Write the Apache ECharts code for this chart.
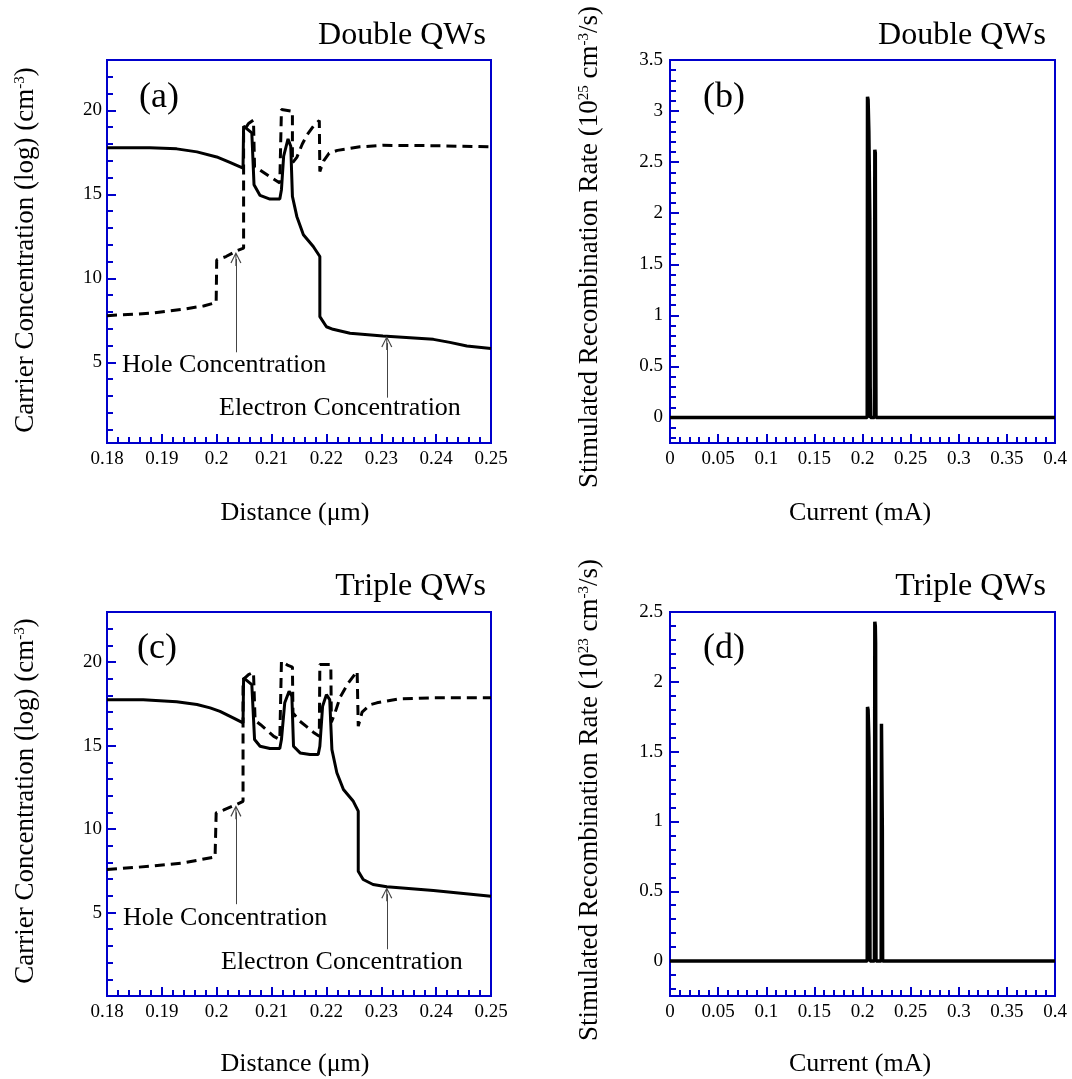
<!DOCTYPE html>
<html>
<head>
<meta charset="utf-8">
<script src="https://cdn.jsdelivr.net/npm/echarts@6/dist/echarts.min.js"></script>
<style>
  html, body { margin: 0; padding: 0; background: #ffffff; }
  #chart { width: 1072px; height: 1079px; }
</style>
</head>
<body>
<div id="chart"></div>
<script>
// ---- Double QWs: carrier profiles (log10 cm^-3) vs distance (um) ----
const distElecDouble = [0.1800, 0.1878, 0.1927, 0.1964, 0.2000, 0.2024, 0.2048, 0.2049, 0.2064, 0.2068, 0.2079, 0.2097, 0.2115, 0.2118, 0.2122, 0.2130, 0.2135, 0.2138, 0.2146, 0.2158, 0.2176, 0.2188, 0.2188, 0.2200, 0.2212, 0.2243, 0.2303, 0.2395, 0.2425, 0.2456, 0.2500];
const elecDouble     = [17.77, 17.77, 17.71, 17.53, 17.23, 16.91, 16.57, 19.06, 18.66, 15.58, 14.94, 14.72, 14.72, 15.28, 17.27, 18.30, 17.86, 14.88, 13.69, 12.60, 11.90, 11.30, 7.72, 7.12, 6.97, 6.73, 6.57, 6.37, 6.19, 5.97, 5.83];

const distHoleDouble = [0.1800, 0.1878, 0.1939, 0.1976, 0.1999, 0.2000, 0.2017, 0.2038, 0.2049, 0.2049, 0.2058, 0.2067, 0.2069, 0.2079, 0.2097, 0.2115, 0.2118, 0.2138, 0.2138, 0.2146, 0.2156, 0.2165, 0.2176, 0.2187, 0.2188, 0.2195, 0.2205, 0.2220, 0.2261, 0.2303, 0.2395, 0.2500];
const holeDouble     = [7.78, 7.92, 8.16, 8.36, 8.56, 11.10, 11.30, 11.66, 11.80, 18.76, 19.22, 19.42, 16.60, 16.45, 16.05, 15.68, 20.05, 19.95, 16.87, 17.20, 18.00, 18.55, 19.05, 19.40, 16.37, 17.00, 17.45, 17.62, 17.83, 17.92, 17.90, 17.83];

// ---- Triple QWs: carrier profiles ----
const distElecTriple = [0.1800, 0.1866, 0.1927, 0.1964, 0.1988, 0.2006, 0.2030, 0.2048, 0.2049, 0.2064, 0.2069, 0.2079, 0.2097, 0.2115, 0.2118, 0.2124, 0.2132, 0.2137, 0.2140, 0.2152, 0.2170, 0.2185, 0.2188, 0.2193, 0.2200, 0.2206, 0.2210, 0.2219, 0.2231, 0.2249, 0.2258, 0.2258, 0.2267, 0.2285, 0.2310, 0.2395, 0.2500];
const elecTriple     = [17.75, 17.75, 17.62, 17.46, 17.26, 17.05, 16.66, 16.36, 19.05, 18.65, 15.36, 14.96, 14.82, 14.82, 15.36, 17.56, 18.25, 17.95, 14.96, 14.56, 14.46, 14.46, 14.96, 17.35, 18.05, 17.75, 14.76, 13.37, 12.37, 11.66, 11.07, 7.47, 6.98, 6.68, 6.54, 6.32, 5.98];

const distHoleTriple = [0.1800, 0.1878, 0.1939, 0.1997, 0.1999, 0.2012, 0.2036, 0.2048, 0.2048, 0.2058, 0.2067, 0.2070, 0.2080, 0.2094, 0.2104, 0.2115, 0.2118, 0.2130, 0.2138, 0.2139, 0.2150, 0.2165, 0.2178, 0.2187, 0.2188, 0.2208, 0.2209, 0.2215, 0.2225, 0.2240, 0.2256, 0.2258, 0.2265, 0.2280, 0.2292, 0.2334, 0.2395, 0.2500];
const holeTriple     = [7.57, 7.77, 7.97, 8.33, 10.97, 11.13, 11.47, 11.66, 18.95, 19.25, 19.39, 16.50, 16.25, 15.85, 15.55, 15.36, 20.05, 19.80, 19.70, 16.96, 16.50, 16.10, 15.75, 15.56, 19.85, 19.85, 16.40, 16.90, 17.90, 18.75, 19.45, 16.16, 17.00, 17.45, 17.56, 17.80, 17.86, 17.86];

// ---- Stimulated recombination rate vs current (mA) ----
const currentDouble = [0, 0.2049, 0.2052, 0.2058, 0.2066, 0.2076, 0.2080, 0.2083, 0.2124, 0.2128, 0.2133, 0.2136, 0.2140, 0.4];
const rateDouble    = [0, 0, 3.14, 3.11, 2.80, 1.95, 0.30, 0, 0, 2.62, 2.59, 1.50, 0, 0];            // x 1e25 cm^-3/s

const currentTriple = [0, 0.2049, 0.2052, 0.2058, 0.2066, 0.2074, 0.2078, 0.2124, 0.2128, 0.2133, 0.2136, 0.2140, 0.2194, 0.2197, 0.2202, 0.2206, 0.2209, 0.4];
const rateTriple    = [0, 0, 1.82, 1.80, 1.60, 1.00, 0, 0, 2.43, 2.40, 2.28, 0, 0, 1.70, 1.69, 0.94, 0, 0]; // x 1e23 cm^-3/s

// ---- tick labels ----
const distLabels        = [0.18, 0.19, 0.20, 0.21, 0.22, 0.23, 0.24, 0.25];
const concLabels        = [5, 10, 15, 20];
const currentLabels     = [0, 0.05, 0.1, 0.15, 0.2, 0.25, 0.3, 0.35, 0.4];
const rateDoubleLabels  = [0, 0.5, 1, 1.5, 2, 2.5, 3, 3.5];
const rateTripleLabels  = [0, 0.5, 1, 1.5, 2, 2.5];

// annotation arrows (data coordinates: x, from-y, to-y)
const arrowsDouble = [
  { x: 0.2035, from: 5.6, to: 11.15 },
  { x: 0.2310, from: 2.9, to: 6.15 }
];
const arrowsTriple = [
  { x: 0.2035, from: 5.5, to: 11.0 },
  { x: 0.2310, from: 2.8, to: 6.1 }
];

function range(a, b, step) {
  const out = [];
  const n = Math.round((b - a) / step);
  for (let i = 0; i <= n; i++) out.push(+(a + i * step).toFixed(6));
  return out;
}
function pairs(xs, ys) { return xs.map((x, i) => [x, ys[i]]); }
const fmt = v => String(+(+v).toFixed(4));

const BLUE = '#0000cc';
const SERIF = '"Liberation Serif", "Times New Roman", serif';
const ARROW = 'path://M10,0 L20,20 L18,21 L11,6 L11,26 L9,26 L9,6 L2,21 L0,20 Z';

const panels = [
  { box: { left: 107, top: 60,  width: 384, height: 383 }, x: [0.18, 0.25], y: [0.2, 23],
    xLabels: distLabels, xMinor: range(0.18, 0.25, 0.002), yLabels: concLabels, yMinor: range(1, 22, 1), yMargin: 5 },
  { box: { left: 670, top: 60,  width: 385, height: 383 }, x: [0, 0.4], y: [-0.25, 3.5],
    xLabels: currentLabels, xMinor: range(0, 0.4, 0.01), yLabels: rateDoubleLabels, yMinor: range(-0.2, 3.4, 0.1), yMargin: 7 },
  { box: { left: 107, top: 612, width: 384, height: 384 }, x: [0.18, 0.25], y: [0, 23],
    xLabels: distLabels, xMinor: range(0.18, 0.25, 0.002), yLabels: concLabels, yMinor: range(1, 22, 1), yMargin: 5 },
  { box: { left: 670, top: 612, width: 385, height: 384 }, x: [0, 0.4], y: [-0.25, 2.5],
    xLabels: currentLabels, xMinor: range(0, 0.4, 0.01), yLabels: rateTripleLabels, yMinor: range(-0.2, 2.4, 0.1), yMargin: 7 }
];

function makeAxis(dim, g, ext, labels, ticks, len, main, margin) {
  return {
    type: 'value', gridIndex: g, min: ext[0], max: ext[1],
    position: dim === 'x' ? 'bottom' : 'left',
    axisLine: { show: main, onZero: false, lineStyle: { color: BLUE, width: 2 } },
    axisTick: { show: true, inside: true, length: len, customValues: ticks, lineStyle: { color: BLUE, width: 2 } },
    axisLabel: main
      ? { show: true, customValues: labels, margin: margin, formatter: fmt, color: '#000', fontFamily: SERIF, fontSize: 19 }
      : { show: false },
    splitLine: { show: false }
  };
}

const grid = [], xAxis = [], yAxis = [];
panels.forEach((p, g) => {
  grid.push(Object.assign({ show: true, borderColor: BLUE, borderWidth: 2, backgroundColor: 'transparent' }, p.box));
  xAxis.push(makeAxis('x', g, p.x, p.xLabels, p.xLabels, 9, true, 7));
  xAxis.push(makeAxis('x', g, p.x, null, p.xMinor, 6, false, 0));
  yAxis.push(makeAxis('y', g, p.y, p.yLabels, p.yLabels, 9, true, p.yMargin));
  yAxis.push(makeAxis('y', g, p.y, null, p.yMinor, 6, false, 0));
});

function arrowLines(list) {
  return {
    silent: true,
    symbol: ['none', ARROW],
    symbolSize: [11, 14],
    label: { show: false },
    emphasis: { disabled: true },
    lineStyle: { color: '#444', width: 1, type: 'solid' },
    data: list.map(a => [{ coord: [a.x, a.from] }, { coord: [a.x, a.to] }])
  };
}

function lineSeries(g, data, width, dashed, extra) {
  return Object.assign({
    type: 'line', xAxisIndex: 2 * g, yAxisIndex: 2 * g, data: data,
    showSymbol: false, symbol: 'none',
    itemStyle: { color: '#000' },
    lineStyle: { color: '#000', width: width, type: dashed ? [10, 6] : 'solid', join: 'bevel' },
    emphasis: { disabled: true }
  }, extra || {});
}

const series = [
  lineSeries(0, pairs(distElecDouble, elecDouble), 3, false, { markLine: arrowLines(arrowsDouble) }),
  lineSeries(0, pairs(distHoleDouble, holeDouble), 3, true),
  lineSeries(1, pairs(currentDouble, rateDouble), 3.5, false),
  lineSeries(2, pairs(distElecTriple, elecTriple), 3, false, { markLine: arrowLines(arrowsTriple) }),
  lineSeries(2, pairs(distHoleTriple, holeTriple), 3, true),
  lineSeries(3, pairs(currentTriple, rateTriple), 3.5, false)
];

function txt(text, x, y, size, align, opts) {
  const o = opts || {};
  return {
    type: 'text', x: x, y: y, rotation: o.rotation || 0, silent: true,
    style: {
      text: text, fill: '#000', fontSize: size, fontFamily: SERIF,
      align: align, textAlign: align, verticalAlign: 'middle', textVerticalAlign: 'middle',
      rich: o.rich
    }
  };
}
const supRich = { sup: { fontSize: 15, fontFamily: SERIF, fill: '#000', verticalAlign: 'top', lineHeight: 15 } };

const graphic = [
  txt('Double QWs', 486, 36, 32, 'right'),
  txt('Double QWs', 1046, 36, 32, 'right'),
  txt('Triple QWs', 486, 587, 32, 'right'),
  txt('Triple QWs', 1046, 587, 32, 'right'),
  txt('(a)', 159, 98, 36, 'center'),
  txt('(b)', 724, 98, 36, 'center'),
  txt('(c)', 157, 649, 36, 'center'),
  txt('(d)', 724, 649, 36, 'center'),
  txt('Hole Concentration', 122, 365, 26, 'left'),
  txt('Electron Concentration', 219, 408, 26, 'left'),
  txt('Hole Concentration', 123, 918, 26, 'left'),
  txt('Electron Concentration', 221, 962, 26, 'left'),
  txt('Distance (\u03bcm)', 295, 513, 26, 'center'),
  txt('Current (mA)', 860, 513, 26, 'center'),
  txt('Distance (\u03bcm)', 295, 1064, 26, 'center'),
  txt('Current (mA)', 860, 1064, 26, 'center'),
  txt('Carrier Concentration (log) (cm{sup|-3})', 26, 250, 27, 'center', { rotation: Math.PI / 2, rich: supRich }),
  txt('Carrier Concentration (log) (cm{sup|-3})', 26, 801, 27, 'center', { rotation: Math.PI / 2, rich: supRich }),
  txt('Stimulated Recombination Rate (10{sup|25} cm{sup|-3}/s)', 590, 247, 27, 'center', { rotation: Math.PI / 2, rich: supRich }),
  txt('Stimulated Recombination Rate (10{sup|23} cm{sup|-3}/s)', 590, 800, 27, 'center', { rotation: Math.PI / 2, rich: supRich })
];

const chart = echarts.init(document.getElementById('chart'), null, { renderer: 'canvas' });
chart.setOption({
  backgroundColor: '#ffffff',
  animation: false,
  grid: grid,
  xAxis: xAxis,
  yAxis: yAxis,
  series: series,
  graphic: graphic
});
</script>
</body>
</html>
